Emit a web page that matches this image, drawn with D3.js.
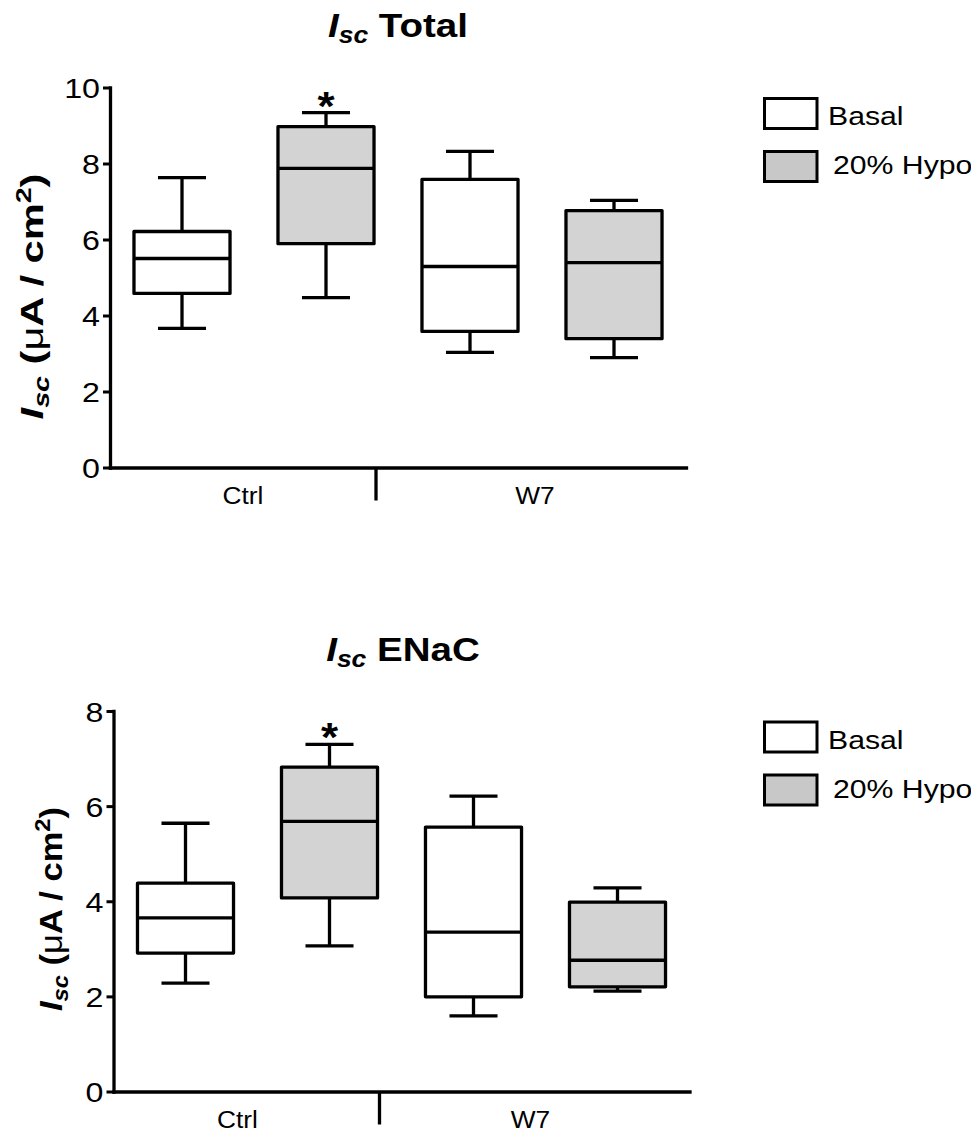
<!DOCTYPE html>
<html><head><meta charset="utf-8">
<script src="https://cdn.jsdelivr.net/npm/d3@7"></script>
<style>
body{margin:0;background:#fff}
svg{display:block}
text{font-family:"Liberation Sans",Arial,Helvetica,sans-serif;fill:#000}
</style>
</head><body>
<svg id="c" width="971" height="1133"></svg>
<script>
// ---------- data ----------
const boxKeys = ["Ctrl-Basal", "Ctrl-Hypo", "W7-Basal", "W7-Hypo"];
const boxConditions = ["Basal", "20% Hypo", "Basal", "20% Hypo"];
const groupLabels = ["Ctrl", "W7"];
const legendLabels = ["Basal", "20% Hypo"];
const significant = [false, true, false, false];

const totalMin    = [3.66, 4.47, 3.03, 2.89];
const totalQ1     = [4.58, 5.89, 3.58, 3.39];
const totalMedian = [5.50, 7.87, 5.29, 5.39];
const totalQ3     = [6.21, 8.97, 7.58, 6.76];
const totalMax    = [7.63, 9.34, 8.32, 7.03];
const totalTicks  = [0, 2, 4, 6, 8, 10];

const enacMin    = [2.28, 3.06, 1.59, 2.11];
const enacQ1     = [2.91, 4.07, 1.99, 2.20];
const enacMedian = [3.65, 5.68, 3.35, 2.76];
const enacQ3     = [4.38, 6.82, 5.56, 3.98];
const enacMax    = [5.64, 7.30, 6.21, 4.28];
const enacTicks  = [0, 2, 4, 6, 8];

// ---------- layout ----------
const fills = {"Basal": "#ffffff", "20% Hypo": "#d3d3d3"};
const legendFills = {"Basal": "#ffffff", "20% Hypo": "#c8c8c8"};
const SX = 1.15;   // horizontal glyph stretch of the original export
const LW = 3.3;

const panels = [
  {title: "Total", ticks: totalTicks, min: totalMin, q1: totalQ1, med: totalMedian, q3: totalQ3, max: totalMax,
   top: 87.5, bottom: 467.5, left: 110, right: 686, off: 0,
   ylab: {x: 43, y: 296.5, sx: 1.3}, groupShift: [-11, -7], titleX: 398},
  {title: "ENaC", ticks: enacTicks, min: enacMin, q1: enacQ1, med: enacMedian, q3: enacQ3, max: enacMax,
   top: 711, bottom: 1091.5, left: 113.5, right: 689.5, off: 623.5,
   ylab: {x: 62, y: 909, sx: 1.08}, groupShift: [-20, -15], titleX: 403}
];

const svg = d3.select("#c");

function txt(g, x, y, size, o = {}) {
  const t = g.append("text")
    .attr("transform", `translate(${x},${y}) rotate(${o.rot || 0}) scale(${o.sx || SX},1)`)
    .style("font-size", size + "px");
  if (o.anchor) t.attr("text-anchor", o.anchor);
  if (o.weight) t.style("font-weight", o.weight);
  return t;
}

panels.forEach(p => {
  const g = svg.append("g");
  const x = d3.scaleBand().domain(boxKeys).range([p.left, p.right]).paddingInner(0).paddingOuter(0);
  const y = d3.scaleLinear().domain([0, d3.max(p.ticks)]).range([p.bottom, p.top]);
  const bw = x.bandwidth() * 0.667;
  const cw = bw / 2;
  const cx = k => x(k) + x.bandwidth() / 2;

  // title
  const tt = txt(g, p.titleX, 37 + p.off, 33.5, {anchor: "middle", weight: "bold"});
  tt.append("tspan").style("font-style", "italic").text("I");
  tt.append("tspan").style("font-style", "italic").style("font-size", "23px").attr("dy", 6).text("sc");
  tt.append("tspan").attr("dy", -6).text(" " + p.title);

  // y axis
  const ya = g.append("g").attr("transform", `translate(${p.left},0)`)
    .call(d3.axisLeft(y).tickValues(p.ticks).tickSize(7).tickSizeOuter(0).tickFormat(d3.format("d")));
  ya.select(".domain").attr("stroke-width", LW).attr("stroke-linecap", "square");
  ya.selectAll(".tick line").attr("stroke-width", 3);
  ya.selectAll(".tick text").attr("font-family", null).style("font-size", "28px")
    .attr("x", -10 / SX).attr("dy", "0.36em").attr("transform", `scale(${SX},1)`);

  // x axis
  const xa = g.append("g").attr("transform", `translate(0,${y(0)})`)
    .call(d3.axisBottom(x).tickValues([]).tickSizeOuter(0));
  xa.select(".domain").attr("stroke-width", LW).attr("stroke-linecap", "square");
  const divX = x(boxKeys[2]) - 22;
  g.append("line").attr("x1", divX).attr("x2", divX).attr("y1", y(0)).attr("y2", y(0) + 33)
    .attr("stroke", "#000").attr("stroke-width", 3.3);
  groupLabels.forEach((lab, i) => {
    const gx = (cx(boxKeys[2 * i]) + cx(boxKeys[2 * i + 1])) / 2 + p.groupShift[i];
    txt(g, gx, y(0) + 36, 23.5, {anchor: "middle", sx: 1.12}).text(lab);
  });

  // y label
  const yl = txt(g, p.ylab.x, p.ylab.y, 32, {rot: -90, anchor: "middle", weight: "bold", sx: p.ylab.sx});
  yl.append("tspan").style("font-style", "italic").text("I");
  yl.append("tspan").style("font-style", "italic").style("font-size", "22px").attr("dy", 6).text("sc");
  yl.append("tspan").attr("dy", -6).text(" (");
  yl.append("tspan").style("font-weight", "normal").text("\u03BC");
  yl.append("tspan").text("A / cm");
  yl.append("tspan").style("font-size", "22px").attr("dy", -12).text("2");
  yl.append("tspan").attr("dy", 12).text(")");

  // boxes
  boxKeys.forEach((k, i) => {
    const c = cx(k);
    const bg = g.append("g").attr("stroke", "#000").attr("stroke-width", LW);
    bg.append("line").attr("x1", c).attr("x2", c).attr("y1", y(p.max[i])).attr("y2", y(p.q3[i]));
    bg.append("line").attr("x1", c).attr("x2", c).attr("y1", y(p.q1[i])).attr("y2", y(p.min[i]));
    bg.append("line").attr("x1", c - cw / 2).attr("x2", c + cw / 2).attr("y1", y(p.max[i])).attr("y2", y(p.max[i]));
    bg.append("line").attr("x1", c - cw / 2).attr("x2", c + cw / 2).attr("y1", y(p.min[i])).attr("y2", y(p.min[i]));
    bg.append("rect").attr("x", c - bw / 2).attr("width", bw)
      .attr("y", y(p.q3[i])).attr("height", y(p.q1[i]) - y(p.q3[i]))
      .attr("fill", fills[boxConditions[i]]).attr("stroke-linejoin", "round");
    bg.append("line").attr("x1", c - bw / 2).attr("x2", c + bw / 2).attr("y1", y(p.med[i])).attr("y2", y(p.med[i]));
    if (significant[i]) {
      txt(g, c, y(p.max[i]) + 7, 40, {anchor: "middle", weight: "bold", sx: 1.1}).text("*");
    }
  });

  // legend
  legendLabels.forEach((lab, i) => {
    const ly = 98.5 + i * 53 + p.off;
    g.append("rect").attr("x", 764.5).attr("y", ly).attr("width", 52.5).attr("height", 30)
      .attr("fill", legendFills[lab]).attr("stroke", "#000").attr("stroke-width", 3);
    txt(g, i === 0 ? 828 : 833, 125 + i * 49 + p.off, 26.5, {sx: 1.14}).text(lab);
  });
});
</script>
</body></html>
